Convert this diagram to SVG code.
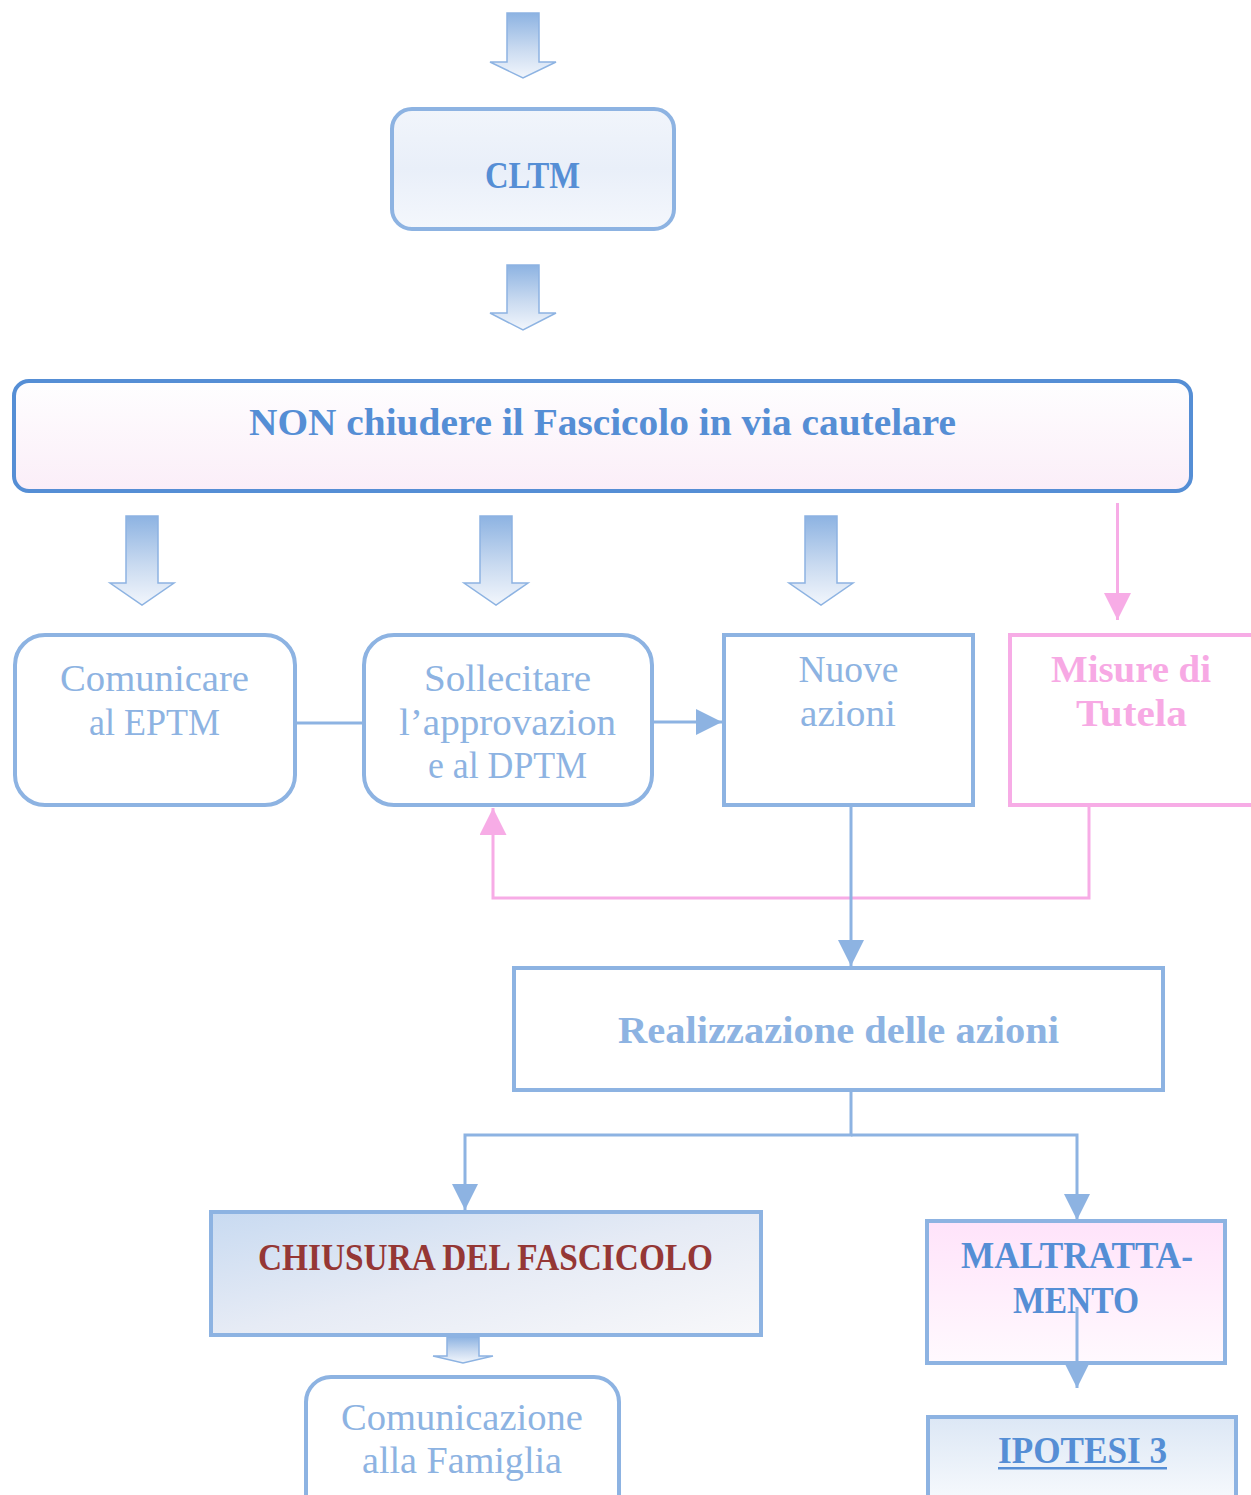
<svg xmlns="http://www.w3.org/2000/svg" width="1251" height="1495" viewBox="0 0 1251 1495">
<style>
  .t { font-family: "Liberation Serif", "Times New Roman", serif; font-size: 37px; text-anchor: middle; }
  .b { font-weight: bold; }
  .reg { fill: #8DB3E2; }
  .dark { fill: #558ED5; }
  .pink { fill: #F7A9E4; }
  .box { stroke: #8DB3E2; stroke-width: 4; }
  .conn { fill: none; stroke: #8DB3E2; stroke-width: 3; }
  .pconn { fill: none; stroke: #F7ACE6; stroke-width: 3; }
  .blk { fill: url(#gArrow); stroke: #8DB3E2; stroke-width: 1.5; }
</style>
<defs>
  <linearGradient id="gArrow" x1="0" y1="0" x2="0" y2="1">
    <stop offset="0" stop-color="#8DB3E2"/>
    <stop offset="0.55" stop-color="#C9DAF0"/>
    <stop offset="1" stop-color="#F2F6FC"/>
  </linearGradient>
  <linearGradient id="gCltm" x1="0" y1="0" x2="0" y2="1">
    <stop offset="0" stop-color="#F1F5FB"/>
    <stop offset="0.5" stop-color="#E9EFF9"/>
    <stop offset="1" stop-color="#F4F7FC"/>
  </linearGradient>
  <linearGradient id="gNon" x1="0" y1="0" x2="0" y2="1">
    <stop offset="0" stop-color="#FEFEFF"/>
    <stop offset="1" stop-color="#FBEEF8"/>
  </linearGradient>
  <linearGradient id="gChius" x1="0" y1="0" x2="1" y2="1">
    <stop offset="0" stop-color="#C8DAF1"/>
    <stop offset="0.5" stop-color="#E6EBF5"/>
    <stop offset="1" stop-color="#F8F8FA"/>
  </linearGradient>
  <linearGradient id="gMalt" x1="0" y1="0" x2="0" y2="1">
    <stop offset="0" stop-color="#FFE3FA"/>
    <stop offset="1" stop-color="#FFF9FE"/>
  </linearGradient>
  <linearGradient id="gIpo" x1="0" y1="0" x2="0" y2="1">
    <stop offset="0" stop-color="#DCE7F5"/>
    <stop offset="1" stop-color="#FFFFFF"/>
  </linearGradient>
  <marker id="mBlue" markerUnits="userSpaceOnUse" markerWidth="26" markerHeight="26" viewBox="0 0 26 26" refX="26" refY="13" orient="auto">
    <path d="M0,0 L26,13 L0,26 z" fill="#8DB3E2"/>
  </marker>
  <marker id="mPink" markerUnits="userSpaceOnUse" markerWidth="27" markerHeight="27" viewBox="0 0 27 27" refX="27" refY="13.5" orient="auto">
    <path d="M0,0 L27,13.5 L0,27 z" fill="#F7ACE6"/>
  </marker>
</defs>

<g id="node-cltm">
  <rect x="392" y="109" width="282" height="120" rx="20" fill="url(#gCltm)" class="box"/>
  <text class="t b dark" x="532.5" y="188" textLength="95" lengthAdjust="spacingAndGlyphs">CLTM</text>
</g>

<g id="node-non">
  <rect x="14" y="381" width="1177" height="110" rx="15" fill="url(#gNon)" stroke="#558ED5" stroke-width="4"/>
  <text class="t b dark" x="602.5" y="435" textLength="707" lengthAdjust="spacingAndGlyphs">NON chiudere il Fascicolo in via cautelare</text>
</g>

<g id="node-comunicare">
  <rect x="15" y="635" width="280" height="170" rx="30" fill="#FFFFFF" class="box"/>
  <text class="t reg" x="154.5" y="691" textLength="189" lengthAdjust="spacingAndGlyphs">Comunicare</text>
  <text class="t reg" x="154.5" y="735" textLength="131" lengthAdjust="spacingAndGlyphs">al EPTM</text>
</g>

<g id="node-sollecitare">
  <rect x="364" y="635" width="288" height="170" rx="30" fill="#FFFFFF" class="box"/>
  <text class="t reg" x="507.5" y="691" textLength="167" lengthAdjust="spacingAndGlyphs">Sollecitare</text>
  <text class="t reg" x="507.5" y="735" textLength="217" lengthAdjust="spacingAndGlyphs">l’approvazion</text>
  <text class="t reg" x="507.5" y="778" textLength="159" lengthAdjust="spacingAndGlyphs">e al DPTM</text>
</g>

<g id="node-nuove">
  <rect x="724" y="635" width="249" height="170" fill="#FFFFFF" class="box"/>
  <text class="t reg" x="848.5" y="682" textLength="100" lengthAdjust="spacingAndGlyphs">Nuove</text>
  <text class="t reg" x="848" y="726" textLength="96" lengthAdjust="spacingAndGlyphs">azioni</text>
</g>

<g id="node-misure">
  <rect x="1010" y="635" width="262" height="170" fill="#FFFFFF" stroke="#F7ACE6" stroke-width="4"/>
  <text class="t b pink" x="1131" y="682" textLength="160" lengthAdjust="spacingAndGlyphs">Misure di</text>
  <text class="t b pink" x="1131.5" y="726" textLength="111" lengthAdjust="spacingAndGlyphs">Tutela</text>
</g>

<g id="node-realizzazione">
  <rect x="514" y="968" width="649" height="122" fill="#FFFFFF" class="box"/>
  <text class="t b reg" x="838.5" y="1043" textLength="441" lengthAdjust="spacingAndGlyphs">Realizzazione delle azioni</text>
</g>

<g id="node-chiusura">
  <rect x="211" y="1212" width="550" height="123" fill="url(#gChius)" class="box"/>
  <text class="t b" fill="#953735" x="485.5" y="1270" textLength="455" lengthAdjust="spacingAndGlyphs">CHIUSURA DEL FASCICOLO</text>
</g>

<g id="node-comunicazione">
  <rect x="306" y="1377" width="313" height="150" rx="25" fill="#FFFFFF" class="box"/>
  <text class="t reg" x="462" y="1430" textLength="242" lengthAdjust="spacingAndGlyphs">Comunicazione</text>
  <text class="t reg" x="462" y="1473" textLength="200" lengthAdjust="spacingAndGlyphs">alla Famiglia</text>
</g>

<g id="node-maltrattamento">
  <rect x="927" y="1221" width="298" height="142" fill="url(#gMalt)" class="box"/>
  <text class="t b dark" x="1077" y="1268" textLength="232" lengthAdjust="spacingAndGlyphs">MALTRATTA-</text>
  <text class="t b dark" x="1076" y="1313" textLength="126" lengthAdjust="spacingAndGlyphs">MENTO</text>
</g>

<g id="node-ipotesi">
  <rect x="928" y="1417" width="308" height="110" fill="url(#gIpo)" class="box"/>
  <text class="t b dark" x="1082.5" y="1463" textLength="169" lengthAdjust="spacingAndGlyphs">IPOTESI 3</text>
  <rect x="998" y="1467" width="169" height="2.5" fill="#558ED5"/>
</g>

<g id="connectors">
  <polygon class="blk" points="507,13 539,13 539,62 556,62 523,78 490,62 507,62"/>
  <polygon class="blk" points="507,265 539,265 539,313 556,313 523,330 490,313 507,313"/>
  <polygon class="blk" points="126,516 158,516 158,583 174,583 142,605 110,583 126,583"/>
  <polygon class="blk" points="480,516 512,516 512,583 528,583 496,605 464,583 480,583"/>
  <polygon class="blk" points="805,516 837,516 837,583 853,583 821,605 789,583 805,583"/>
  <polygon class="blk" points="447,1337 479,1337 479,1356 493,1356 463,1363 433,1356 447,1356"/>
  <path class="pconn" d="M1117.5,503 V620" marker-end="url(#mPink)"/>
  <path class="conn" d="M297,723 H362"/>
  <path class="conn" d="M654,722 H722" marker-end="url(#mBlue)"/>
  <path class="pconn" d="M1089,807 V898 H493 V808" marker-end="url(#mPink)"/>
  <path class="conn" d="M851,807 V966" marker-end="url(#mBlue)"/>
  <path class="conn" d="M851,1092 V1135 H465 V1210" marker-end="url(#mBlue)"/>
  <path class="conn" d="M851,1135 H1077 V1220" marker-end="url(#mBlue)"/>
  <path class="conn" d="M1077,1307 V1388" marker-end="url(#mBlue)"/>
</g>
</svg>
